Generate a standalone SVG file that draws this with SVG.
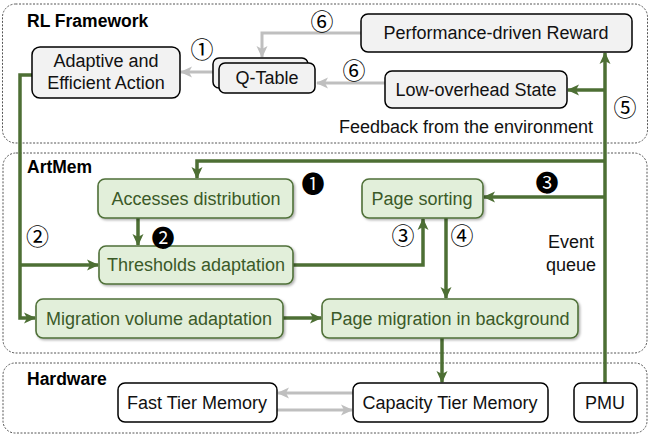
<svg xmlns="http://www.w3.org/2000/svg" width="650" height="436" viewBox="0 0 650 436">
<defs>
<style>
.panel{fill:#fff;stroke:#555;stroke-width:1;stroke-dasharray:2 1.5}
.gbox{fill:#e2efda;stroke:#4f7038;stroke-width:1.6;filter:url(#sh)}
.kbox{fill:#f2f2f2;stroke:#000;stroke-width:1.5}
.wbox{fill:#fff;stroke:#000;stroke-width:1.5}
.t{font-family:"Liberation Sans",Arial,sans-serif;font-size:18px;text-anchor:middle}
.gt{fill:#3b5a28}
.kt{fill:#111}
.lab{font-family:"Liberation Sans",Arial,sans-serif;font-size:17.5px;font-weight:bold;fill:#000}
.num{font-family:"Noto Sans CJK JP","Noto Sans CJK SC","DejaVu Sans",sans-serif;font-size:23px;text-anchor:middle;fill:#000}
.g{fill:none;stroke:#4d6f34;stroke-width:3.5}
.gr{fill:none;stroke:#bfbfbf;stroke-width:3}
</style>
<marker id="ag" markerUnits="userSpaceOnUse" markerWidth="12" markerHeight="12" viewBox="0 0 12 12" refX="11" refY="6" orient="auto"><path d="M0,0.5 L12,6 L0,11.5 L3,6 Z" fill="#4d6f34"/></marker>
<marker id="ay" markerUnits="userSpaceOnUse" markerWidth="12" markerHeight="12" viewBox="0 0 12 12" refX="11" refY="6" orient="auto"><path d="M0,0.5 L12,6 L0,11.5 L3,6 Z" fill="#bfbfbf"/></marker>
<filter id="sh" x="-10%" y="-20%" width="120%" height="150%"><feDropShadow dx="1.5" dy="1.5" stdDeviation="1" flood-color="#000" flood-opacity="0.3"/></filter>
</defs>

<g id="panel-rl"><rect class="panel" x="2.5" y="4" width="645" height="139" rx="13"/><text class="lab" x="27" y="27">RL Framework</text></g>
<g id="panel-artmem"><rect class="panel" x="3" y="153" width="644" height="200" rx="13"/><text class="lab" x="27" y="173">ArtMem</text></g>
<g id="panel-hw"><rect class="panel" x="3" y="363" width="644" height="70" rx="12"/><text class="lab" x="27" y="385">Hardware</text></g>

<g id="connectors">
<path class="gr" d="M361,33 H262 V57" marker-end="url(#ay)"/>
<path class="gr" d="M385,83 H317" marker-end="url(#ay)"/>
<path class="gr" d="M213,72 H181" marker-end="url(#ay)"/>
<path class="g" d="M605,383 V53" marker-end="url(#ag)"/>
<path class="g" d="M605,90 H568" marker-end="url(#ag)"/>
<path class="g" d="M605,161 H197 V178" marker-end="url(#ag)"/>
<path class="g" d="M605,197 H484" marker-end="url(#ag)"/>
<path class="g" d="M32,75 H20 V318 H35" marker-end="url(#ag)"/>
<path class="g" d="M20,265 H98" marker-end="url(#ag)"/>
<path class="g" d="M138,218 V245" marker-end="url(#ag)"/>
<path class="g" d="M293,265 H423 V219" marker-end="url(#ag)"/>
<path class="g" d="M446,218 V298" marker-end="url(#ag)"/>
<path class="g" d="M283,318 H321" marker-end="url(#ag)"/>
<path class="g" d="M442,338 V382" marker-end="url(#ag)"/>
<path class="gr" d="M353,393 H278" marker-end="url(#ay)"/>
<path class="gr" d="M277,410 H352" marker-end="url(#ay)"/>
</g>

<g id="node-action"><rect class="kbox" x="32" y="47" width="148" height="51" rx="8"/><text class="t kt" x="106" y="67">Adaptive and</text><text class="t kt" x="106" y="89">Efficient Action</text></g>
<g id="node-qtable"><rect class="kbox" x="213" y="58" width="95" height="30" rx="6"/><rect class="kbox" x="219" y="63" width="96" height="30" rx="6"/><text class="t kt" x="267" y="84">Q-Table</text></g>
<g id="node-reward"><rect class="kbox" x="361" y="14" width="271" height="38" rx="7"/><text class="t kt" x="496" y="39">Performance-driven Reward</text></g>
<g id="node-state"><rect class="kbox" x="385" y="71" width="182" height="37" rx="7"/><text class="t kt" x="476" y="96">Low-overhead State</text></g>

<g id="node-accesses"><rect class="gbox" x="98" y="179" width="195" height="39" rx="7"/><text class="t gt" x="196" y="205">Accesses distribution</text></g>
<g id="node-thresholds"><rect class="gbox" x="99" y="246" width="194" height="38" rx="7"/><text class="t gt" x="196" y="271">Thresholds adaptation</text></g>
<g id="node-sorting"><rect class="gbox" x="362" y="179" width="121" height="39" rx="7"/><text class="t gt" x="422" y="205">Page sorting</text></g>
<g id="node-volume"><rect class="gbox" x="36" y="299" width="247" height="39" rx="7"/><text class="t gt" x="159" y="325">Migration volume adaptation</text></g>
<g id="node-pagemig"><rect class="gbox" x="322" y="299" width="256" height="39" rx="7"/><text class="t gt" x="450" y="325">Page migration in background</text></g>

<g id="node-fast"><rect class="wbox" x="118" y="383" width="159" height="39" rx="7"/><text class="t kt" x="197" y="409">Fast Tier Memory</text></g>
<g id="node-capacity"><rect class="wbox" x="353" y="383" width="195" height="39" rx="7"/><text class="t kt" x="450" y="409">Capacity Tier Memory</text></g>
<g id="node-pmu"><rect class="wbox" x="574" y="383" width="63" height="39" rx="7"/><text class="t kt" x="605" y="409">PMU</text></g>

<g id="labels">
<text class="t kt" x="466" y="133">Feedback from the environment</text>
<text class="t kt" x="571" y="248">Event</text>
<text class="t kt" x="571" y="271">queue</text>
<text class="num" x="202" y="57.5">①</text>
<text class="num" x="322" y="29.5">⑥</text>
<text class="num" x="354" y="78.5">⑥</text>
<text class="num" x="625" y="115.5">⑤</text>
<text class="num" x="37.5" y="244.5">②</text>
<text class="num" x="313" y="191.5">❶</text>
<text class="num" x="163" y="245.5">❷</text>
<text class="num" x="547" y="190.5">❸</text>
<text class="num" x="403" y="243.5">③</text>
<text class="num" x="462" y="243.5">④</text>
</g>
</svg>
